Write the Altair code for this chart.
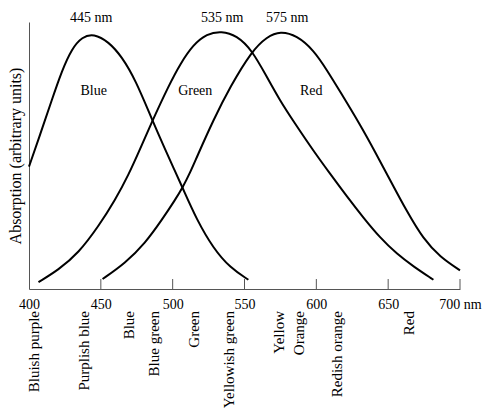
import altair as alt
import pandas as pd

# ---- data ----
blue_wl = [400, 408.9, 415.9, 422.9, 429.9, 437, 445, 455.4, 464.7, 474.1, 485.7, 494.8, 501, 507, 516.8, 528.4, 540, 552.7]
blue_abs = [0.478, 0.622, 0.739, 0.853, 0.94, 0.985, 0.998, 0.966, 0.907, 0.817, 0.661, 0.545, 0.468, 0.394, 0.27, 0.158, 0.083, 0.036]

green_wl = [406.6, 420.5, 434.4, 448.3, 460, 469.2, 477.4, 485.7, 497.3, 505.3, 514.4, 523.7, 534, 544.6, 555.1, 565.5, 574.8, 584.1, 598.5, 609.6, 621.2, 632.8, 644.4, 656, 667.6, 681.5]
green_abs = [0.027, 0.075, 0.14, 0.244, 0.348, 0.445, 0.548, 0.655, 0.795, 0.88, 0.955, 0.997, 1.008, 0.99, 0.934, 0.829, 0.735, 0.655, 0.535, 0.45, 0.362, 0.278, 0.2, 0.137, 0.088, 0.036]

red_wl = [451.2, 467, 480.9, 492.5, 501.7, 507, 512.2, 516.8, 528.4, 540, 555.1, 565.5, 575, 586.4, 598, 607.3, 616.6, 630.5, 641, 651.4, 663, 674.5, 686.1, 700]
red_abs = [0.039, 0.101, 0.179, 0.27, 0.348, 0.397, 0.455, 0.515, 0.661, 0.79, 0.93, 0.985, 1.008, 0.99, 0.934, 0.856, 0.771, 0.642, 0.535, 0.425, 0.303, 0.195, 0.125, 0.073]

tick_values = [400, 450, 500, 550, 600, 650, 700]
last_tick_label = "700 nm"

peak_text = ["445 nm", "535 nm", "575 nm"]
peak_wl = [443.3, 534.4, 579.7]
peak_abs = [1.059, 1.059, 1.059]

curve_text = ["Blue", "Green", "Red"]
curve_wl = [445, 515.7, 596.4]
curve_abs = [0.772, 0.772, 0.772]

color_names = ["Bluish purple", "Purplish blue", "Blue", "Blue green", "Green",
               "Yellowish green", "Yellow", "Orange", "Redish orange", "Red"]
color_wl = [403.6, 438.4, 469.7, 487.1, 515, 539.3, 574.1, 588, 614.5, 664.6]

# ---- tables ----
rows = []
for name, wl, ab in [("Blue", blue_wl, blue_abs), ("Green", green_wl, green_abs), ("Red", red_wl, red_abs)]:
    for w, a in zip(wl, ab):
        rows.append({"curve": name, "wl": w, "abs": a})
df = pd.DataFrame(rows)

ticks_df = pd.DataFrame({"wl": tick_values[1:], "abs": [0.0] * (len(tick_values) - 1),
                         "abs2": [0.039] * (len(tick_values) - 1)})
peaks_df = pd.DataFrame({"wl": peak_wl, "abs": peak_abs, "text": peak_text})
curves_df = pd.DataFrame({"wl": curve_wl, "abs": curve_abs, "text": curve_text})
names_df = pd.DataFrame({"wl": color_wl, "abs": [0.0] * len(color_wl), "text": color_names})

FONT = "Liberation Serif"
x_scale = alt.Scale(domain=[400, 700], nice=False, zero=False)
y_scale = alt.Scale(domain=[0, 1.043], nice=False, zero=True)

x_enc = alt.X("wl:Q", scale=x_scale,
              axis=alt.Axis(values=tick_values, title=None, ticks=False, tickSize=0, grid=False,
                            labelExpr=f"datum.value == {tick_values[-1]} ? '{last_tick_label}' : datum.label",
                            labelFont=FONT, labelFontSize=14, labelColor="black",
                            labelPadding=8, labelFlush=False, domainColor="#555", domainWidth=1))
y_enc = alt.Y("abs:Q", scale=y_scale,
              axis=alt.Axis(title="Absorption (arbitrary units)", labels=False, ticks=False, grid=False,
                            domainColor="#555", domainWidth=1, titleFont=FONT, titleFontSize=16,
                            titleFontWeight="normal", titleColor="black", titlePadding=6))

lines = alt.Chart(df).mark_line(color="black", strokeWidth=2, interpolate="basis").encode(
    x=x_enc, y=y_enc, detail="curve:N")

ticks = alt.Chart(ticks_df).mark_rule(color="#555", strokeWidth=1).encode(
    x="wl:Q", y="abs:Q", y2="abs2:Q")

peaks = alt.Chart(peaks_df).mark_text(font=FONT, fontSize=14, color="black", baseline="middle").encode(
    x="wl:Q", y="abs:Q", text="text:N")

curve_labels = alt.Chart(curves_df).mark_text(font=FONT, fontSize=14, color="black", baseline="middle").encode(
    x="wl:Q", y="abs:Q", text="text:N")

names = alt.Chart(names_df).mark_text(font=FONT, fontSize=15, color="black", angle=270,
                                       align="right", baseline="middle", dx=-22).encode(
    x="wl:Q", y="abs:Q", text="text:N")

chart = alt.layer(lines, ticks, peaks, curve_labels, names).properties(
    width=431, height=267,
    autosize=alt.AutoSizeParams(type="none"),
    padding={"left": 21, "top": 14, "right": 24, "bottom": 122},
    background="white",
).configure_view(stroke=None)

chart.save("out.html", embed_options={"renderer": "svg", "actions": False})
